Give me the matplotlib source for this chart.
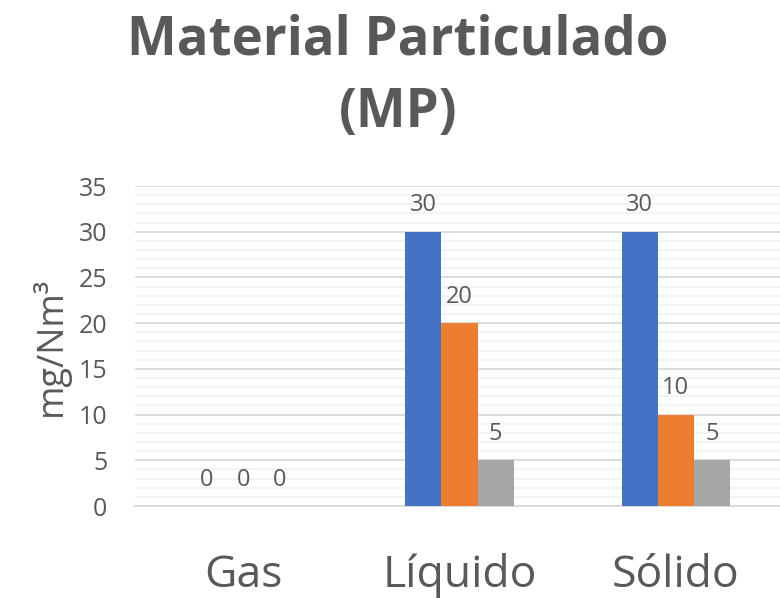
import matplotlib
matplotlib.use("Agg")
import matplotlib.pyplot as plt
import numpy as np
from matplotlib.ticker import MultipleLocator

categories = ["Gas", "Líquido", "Sólido"]
series1 = [0, 30, 30]
series2 = [0, 20, 10]
series3 = [0, 5, 5]
colors = ["#4472C4", "#ED7D31", "#A5A5A5"]

plt.rcParams['font.family'] = ['Open Sans', 'DejaVu Sans']
txt = "#595959"

fig = plt.figure(figsize=(7.8, 5.98), dpi=100)
ax = fig.add_axes([135/780, 92/598, 649/780, 320/598])

x = np.arange(len(categories))
w = 1/6
for i, (vals, c) in enumerate(zip([series1, series2, series3], colors)):
    pos = x + (i - 1) * w
    bars = ax.bar(pos, vals, width=w, color=c, zorder=3)
    for p, v in zip(pos, vals):
        ax.annotate(str(v), (p, v), xytext=(0, 19), textcoords="offset points",
                    ha="center", va="center", fontsize=17, color=txt)

ax.set_xlim(-0.5, 2.5)
ax.set_ylim(0, 35)
ax.yaxis.set_major_locator(MultipleLocator(5))
ax.yaxis.set_minor_locator(MultipleLocator(1))
ax.grid(axis="y", which="major", color="#D9D9D9", linewidth=1.3, zorder=0)
ax.grid(axis="y", which="minor", color="#F2F2F2", linewidth=1.3, zorder=0)
for s in ["top", "right", "left"]:
    ax.spines[s].set_visible(False)
ax.spines["bottom"].set_color("#D9D9D9")
ax.spines["bottom"].set_linewidth(1.3)
ax.set_xticks(x)
ax.set_xticklabels(categories, fontsize=32, color=txt)
ax.tick_params(axis="x", length=0, pad=34)
ax.tick_params(axis="y", which="both", length=0, labelsize=18, labelcolor=txt, pad=20)
ax.set_ylabel("mg/Nm³", fontsize=26, color=txt, va="center")
ax.yaxis.set_label_coords(-0.131, 0.5)

fig.text(398/780, 1 - 77/598, "Material Particulado\n(MP)", ha="center", va="center",
         fontsize=38, fontweight="bold", color=txt, linespacing=1.46)

fig.savefig("out.png", dpi=100)
